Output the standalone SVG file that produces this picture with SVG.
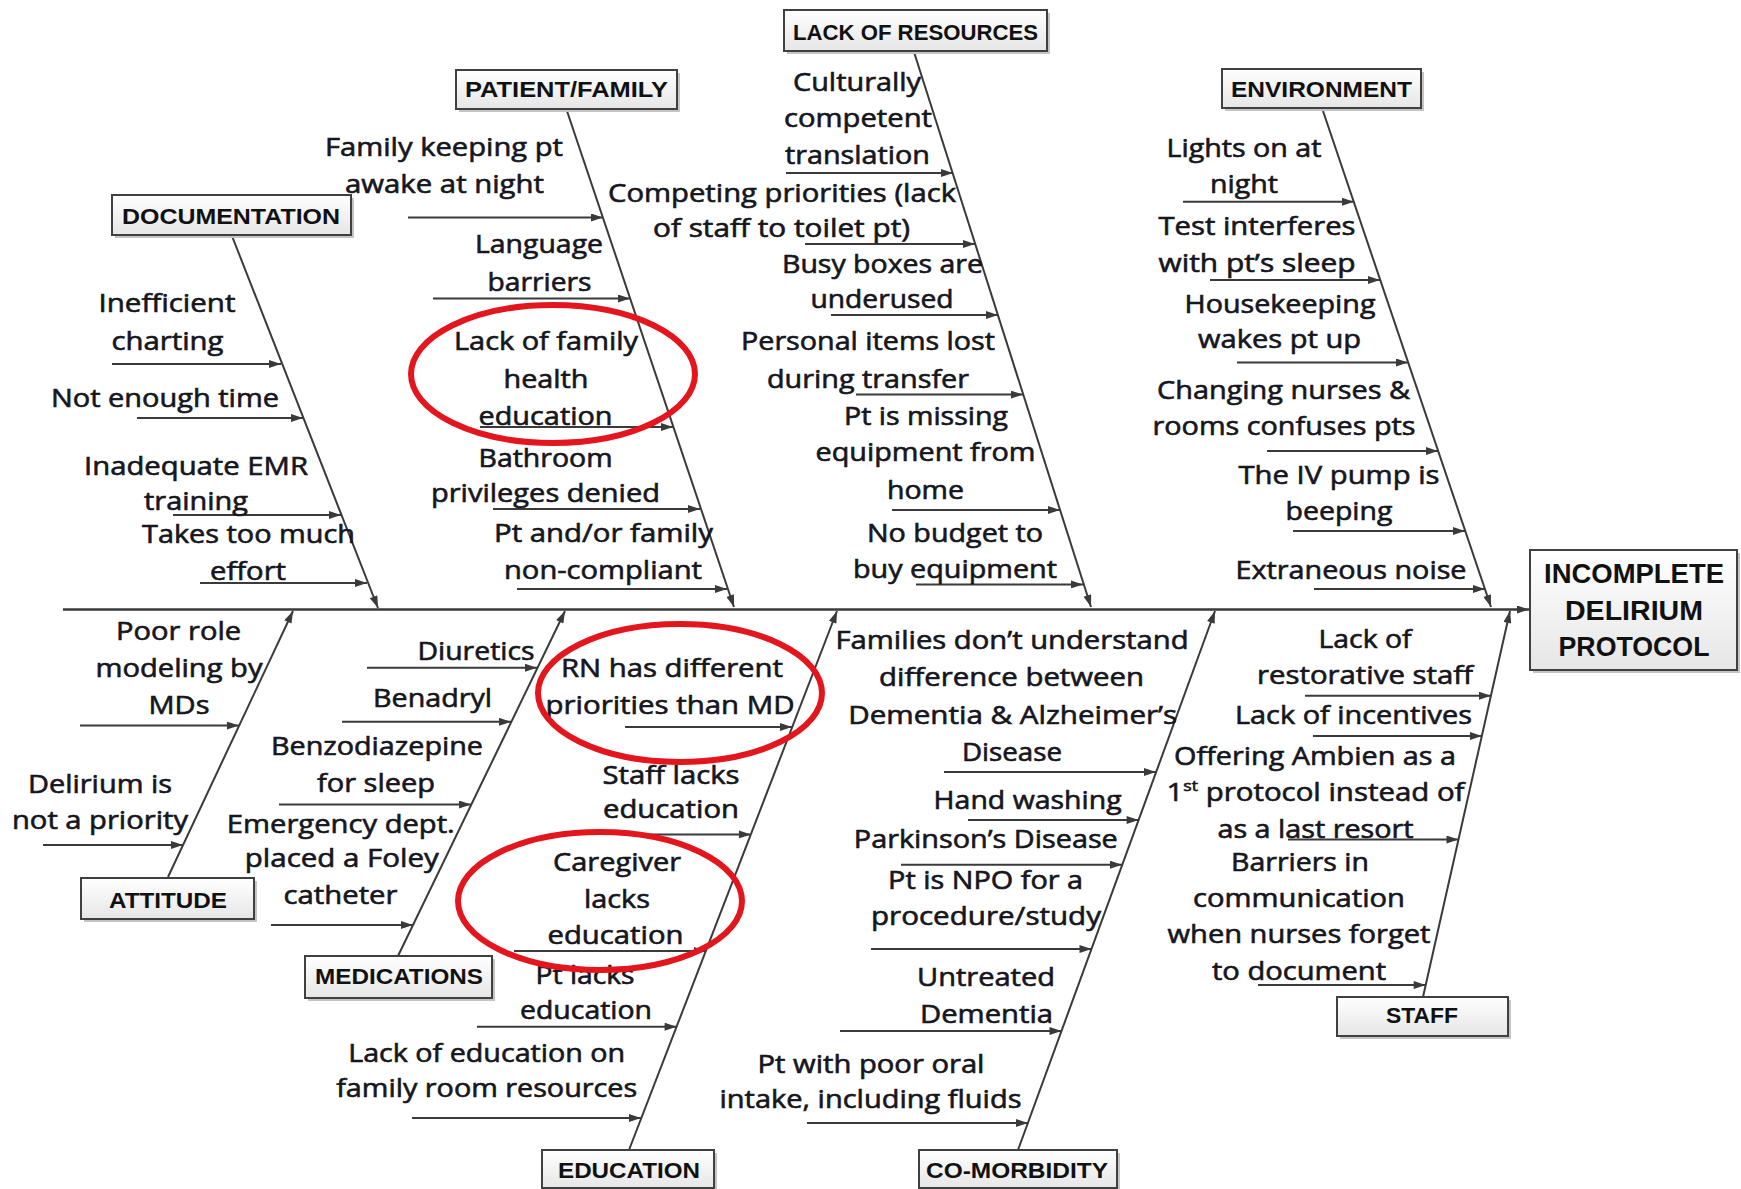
<svg xmlns="http://www.w3.org/2000/svg" width="1741" height="1189" viewBox="0 0 1741 1189">
  <defs>
    <linearGradient id="boxfill" x1="0" y1="0" x2="0" y2="1">
      <stop offset="0" stop-color="#ffffff"/>
      <stop offset="1" stop-color="#e6e6e6"/>
    </linearGradient>
    <marker id="ah" viewBox="0 0 12 8" refX="12" refY="4" markerUnits="userSpaceOnUse" markerWidth="13" markerHeight="8" orient="auto">
      <path d="M0,0 L12,4 L0,8 z" fill="#3a3a3a"/>
    </marker>
    <style>
      .shadow { fill: #c4c4c4; }
      .box { fill: url(#boxfill); stroke: #404040; stroke-width: 2; }
      .title { font-family: "Liberation Sans", Arial, sans-serif; font-weight: bold; font-size: 22px; fill: #111; text-anchor: middle; }
      .effect { font-size: 27px; }
      .lbl { font-family: "Open Sans", "Liberation Sans", sans-serif; font-size: 25px; fill: #161620; stroke: #161620; stroke-width: 0.6; text-anchor: middle; }
      .sup { font-size: 15px; }
      .bone { stroke: #3a3a3a; stroke-width: 2; fill: none; marker-end: url(#ah); }
      .spine { stroke: #3a3a3a; stroke-width: 2.4; fill: none; marker-end: url(#ah); }
      .hl { fill: none; stroke: #e3161d; stroke-width: 6; }
    </style>
  </defs>

  <rect width="1741" height="1189" fill="#ffffff"/>

  <!-- connectors: spine, category bones and cause arrows -->
  <g id="connectors">
    <line class="spine" x1="63" y1="609.5" x2="1529" y2="609.5"/>
    <!-- upper bones -->
    <line class="bone" x1="232" y1="236" x2="378" y2="608"/>
    <line class="bone" x1="567" y1="111" x2="734" y2="607"/>
    <line class="bone" x1="914" y1="52" x2="1091" y2="607"/>
    <line class="bone" x1="1323" y1="111" x2="1491" y2="607"/>
    <!-- lower bones -->
    <line class="bone" x1="168" y1="877" x2="293" y2="611"/>
    <line class="bone" x1="398" y1="956" x2="565" y2="611"/>
    <line class="bone" x1="629" y1="1150" x2="837" y2="611"/>
    <line class="bone" x1="1018" y1="1150" x2="1215" y2="611"/>
    <line class="bone" x1="1423" y1="997" x2="1510" y2="611"/>

    <!-- documentation causes -->
    <line class="bone" x1="112" y1="364" x2="281" y2="364"/>
    <line class="bone" x1="137" y1="418" x2="303" y2="418"/>
    <line class="bone" x1="173" y1="515" x2="341" y2="515"/>
    <line class="bone" x1="200" y1="583" x2="367" y2="583"/>
    <!-- patient/family causes -->
    <line class="bone" x1="408" y1="217.5" x2="603" y2="217.5"/>
    <line class="bone" x1="433" y1="298.5" x2="630" y2="298.5"/>
    <line class="bone" x1="480" y1="427" x2="673" y2="427"/>
    <line class="bone" x1="493" y1="509" x2="700" y2="509"/>
    <line class="bone" x1="517" y1="589" x2="727" y2="589"/>
    <!-- lack of resources causes -->
    <line class="bone" x1="786" y1="173" x2="953" y2="173"/>
    <line class="bone" x1="805" y1="244" x2="975" y2="244"/>
    <line class="bone" x1="831" y1="315" x2="998" y2="315"/>
    <line class="bone" x1="856" y1="394.6" x2="1023" y2="394.6"/>
    <line class="bone" x1="892" y1="510" x2="1060" y2="510"/>
    <line class="bone" x1="916" y1="584.4" x2="1083" y2="584.4"/>
    <!-- environment causes -->
    <line class="bone" x1="1183" y1="201.8" x2="1354" y2="201.8"/>
    <line class="bone" x1="1210" y1="280" x2="1380" y2="280"/>
    <line class="bone" x1="1237" y1="362.5" x2="1408" y2="362.5"/>
    <line class="bone" x1="1267" y1="451" x2="1438" y2="451"/>
    <line class="bone" x1="1293" y1="531" x2="1465" y2="531"/>
    <line class="bone" x1="1314" y1="589" x2="1485" y2="589"/>
    <!-- attitude causes -->
    <line class="bone" x1="80" y1="725.6" x2="239" y2="725.6"/>
    <line class="bone" x1="43" y1="845" x2="183" y2="845"/>
    <!-- medication causes -->
    <line class="bone" x1="367" y1="667.8" x2="537" y2="667.8"/>
    <line class="bone" x1="342" y1="721.8" x2="511" y2="721.8"/>
    <line class="bone" x1="279" y1="804.5" x2="471" y2="804.5"/>
    <line class="bone" x1="271" y1="925" x2="413" y2="925"/>
    <!-- education causes -->
    <line class="bone" x1="625" y1="727" x2="792" y2="727"/>
    <line class="bone" x1="628" y1="834.4" x2="751" y2="834.4"/>
    <line class="bone" x1="514" y1="951" x2="706" y2="951"/>
    <line class="bone" x1="477" y1="1026.7" x2="676.6" y2="1026.7"/>
    <line class="bone" x1="412" y1="1118" x2="641" y2="1118"/>
    <!-- co-morbidity causes -->
    <line class="bone" x1="944" y1="772" x2="1156" y2="772"/>
    <line class="bone" x1="968" y1="820" x2="1138.6" y2="820"/>
    <line class="bone" x1="901" y1="864.7" x2="1122" y2="864.7"/>
    <line class="bone" x1="871" y1="949" x2="1091.5" y2="949"/>
    <line class="bone" x1="840" y1="1031" x2="1061.5" y2="1031"/>
    <line class="bone" x1="807" y1="1123" x2="1028" y2="1123"/>
    <!-- staff causes -->
    <line class="bone" x1="1305" y1="695.7" x2="1491" y2="695.7"/>
    <line class="bone" x1="1313" y1="736" x2="1482" y2="736"/>
    <line class="bone" x1="1288" y1="839.5" x2="1458.5" y2="839.5"/>
    <line class="bone" x1="1258" y1="985" x2="1425.7" y2="985"/>
  </g>

  <!-- effect -->
  <g id="effect">
    <rect class="shadow" x="1533" y="553" width="207" height="120"/>
    <rect class="box" x="1530" y="550" width="207" height="120"/>
    <text class="title effect" x="1634" y="582.6" textLength="180" lengthAdjust="spacingAndGlyphs">INCOMPLETE</text>
    <text class="title effect" x="1634" y="619.6" textLength="138" lengthAdjust="spacingAndGlyphs">DELIRIUM</text>
    <text class="title effect" x="1634" y="656" textLength="151" lengthAdjust="spacingAndGlyphs">PROTOCOL</text>
  </g>

  <!-- category heads -->
  <g id="cat-resources">
    <rect class="shadow" x="787" y="13" width="263" height="41"/>
    <rect class="box" x="784" y="10" width="263" height="41"/>
    <text class="title" x="915.5" y="39.5" textLength="245" lengthAdjust="spacingAndGlyphs">LACK OF RESOURCES</text>
  </g>
  <g id="cat-patient-family">
    <rect class="shadow" x="459" y="73" width="221" height="39"/>
    <rect class="box" x="456" y="70" width="221" height="39"/>
    <text class="title" x="566.5" y="97" textLength="203" lengthAdjust="spacingAndGlyphs">PATIENT/FAMILY</text>
  </g>
  <g id="cat-documentation">
    <rect class="shadow" x="115" y="198" width="239" height="40"/>
    <rect class="box" x="112" y="195" width="239" height="40"/>
    <text class="title" x="231" y="223.5" textLength="218" lengthAdjust="spacingAndGlyphs">DOCUMENTATION</text>
  </g>
  <g id="cat-environment">
    <rect class="shadow" x="1225" y="72" width="199" height="39"/>
    <rect class="box" x="1222" y="69" width="199" height="39"/>
    <text class="title" x="1321.5" y="97" textLength="181" lengthAdjust="spacingAndGlyphs">ENVIRONMENT</text>
  </g>
  <g id="cat-attitude">
    <rect class="shadow" x="84" y="881" width="173" height="41"/>
    <rect class="box" x="81" y="878" width="173" height="41"/>
    <text class="title" x="168" y="908" textLength="118" lengthAdjust="spacingAndGlyphs">ATTITUDE</text>
  </g>
  <g id="cat-medications">
    <rect class="shadow" x="308" y="959" width="187" height="42"/>
    <rect class="box" x="305" y="956" width="187" height="42"/>
    <text class="title" x="399" y="984" textLength="168" lengthAdjust="spacingAndGlyphs">MEDICATIONS</text>
  </g>
  <g id="cat-education">
    <rect class="shadow" x="545" y="1153" width="172" height="38"/>
    <rect class="box" x="542" y="1150" width="172" height="38"/>
    <text class="title" x="629" y="1178" textLength="142" lengthAdjust="spacingAndGlyphs">EDUCATION</text>
  </g>
  <g id="cat-comorbidity">
    <rect class="shadow" x="922" y="1153" width="198" height="38"/>
    <rect class="box" x="919" y="1150" width="198" height="38"/>
    <text class="title" x="1017" y="1178" textLength="182" lengthAdjust="spacingAndGlyphs">CO-MORBIDITY</text>
  </g>
  <g id="cat-staff">
    <rect class="shadow" x="1340" y="1000" width="171" height="39"/>
    <rect class="box" x="1337" y="997" width="171" height="39"/>
    <text class="title" x="1422" y="1023" textLength="72" lengthAdjust="spacingAndGlyphs">STAFF</text>
  </g>

  <!-- documentation causes -->
  <g id="doc-charting">
    <text class="lbl" x="167" y="312" textLength="137" lengthAdjust="spacingAndGlyphs">Inefficient</text>
    <text class="lbl" x="167.5" y="350" textLength="112" lengthAdjust="spacingAndGlyphs">charting</text>
  </g>
  <g id="doc-time">
    <text class="lbl" x="165" y="406.5" textLength="228" lengthAdjust="spacingAndGlyphs">Not enough time</text>
  </g>
  <g id="doc-emr">
    <text class="lbl" x="196" y="474.5" textLength="224" lengthAdjust="spacingAndGlyphs">Inadequate EMR</text>
    <text class="lbl" x="196" y="510" textLength="104" lengthAdjust="spacingAndGlyphs">training</text>
  </g>
  <g id="doc-effort">
    <text class="lbl" x="248.5" y="542.5" textLength="213" lengthAdjust="spacingAndGlyphs">Takes too much</text>
    <text class="lbl" x="248" y="579.6" textLength="76" lengthAdjust="spacingAndGlyphs">effort</text>
  </g>

  <!-- patient/family causes -->
  <g id="pf-awake">
    <text class="lbl" x="444" y="156" textLength="238" lengthAdjust="spacingAndGlyphs">Family keeping pt</text>
    <text class="lbl" x="444.5" y="192.6" textLength="199" lengthAdjust="spacingAndGlyphs">awake at night</text>
  </g>
  <g id="pf-language">
    <text class="lbl" x="539" y="253" textLength="128" lengthAdjust="spacingAndGlyphs">Language</text>
    <text class="lbl" x="539.5" y="290.6" textLength="104" lengthAdjust="spacingAndGlyphs">barriers</text>
  </g>
  <g id="pf-health-education">
    <text class="lbl" x="546" y="350" textLength="184" lengthAdjust="spacingAndGlyphs">Lack of family</text>
    <text class="lbl" x="546" y="387.5" textLength="85" lengthAdjust="spacingAndGlyphs">health</text>
    <text class="lbl" x="545.5" y="425" textLength="134" lengthAdjust="spacingAndGlyphs">education</text>
  </g>
  <g id="pf-bathroom">
    <text class="lbl" x="545.5" y="466.6" textLength="134" lengthAdjust="spacingAndGlyphs">Bathroom</text>
    <text class="lbl" x="545.5" y="502" textLength="229" lengthAdjust="spacingAndGlyphs">privileges denied</text>
  </g>
  <g id="pf-noncompliant">
    <text class="lbl" x="603.5" y="541.7" textLength="219" lengthAdjust="spacingAndGlyphs">Pt and/or family</text>
    <text class="lbl" x="603" y="579" textLength="198" lengthAdjust="spacingAndGlyphs">non-compliant</text>
  </g>

  <!-- lack of resources causes -->
  <g id="lr-translation">
    <text class="lbl" x="857" y="91" textLength="128" lengthAdjust="spacingAndGlyphs">Culturally</text>
    <text class="lbl" x="858" y="127" textLength="148" lengthAdjust="spacingAndGlyphs">competent</text>
    <text class="lbl" x="857.5" y="164" textLength="145" lengthAdjust="spacingAndGlyphs">translation</text>
  </g>
  <g id="lr-priorities">
    <text class="lbl" x="782" y="201.7" textLength="348" lengthAdjust="spacingAndGlyphs">Competing priorities (lack</text>
    <text class="lbl" x="781.5" y="237" textLength="257" lengthAdjust="spacingAndGlyphs">of staff to toilet pt)</text>
  </g>
  <g id="lr-busy-boxes">
    <text class="lbl" x="882.5" y="273" textLength="201" lengthAdjust="spacingAndGlyphs">Busy boxes are</text>
    <text class="lbl" x="882" y="308" textLength="143" lengthAdjust="spacingAndGlyphs">underused</text>
  </g>
  <g id="lr-items-lost">
    <text class="lbl" x="868" y="350" textLength="254" lengthAdjust="spacingAndGlyphs">Personal items lost</text>
    <text class="lbl" x="868" y="387.5" textLength="202" lengthAdjust="spacingAndGlyphs">during transfer</text>
  </g>
  <g id="lr-equipment-home">
    <text class="lbl" x="926" y="425" textLength="164" lengthAdjust="spacingAndGlyphs">Pt is missing</text>
    <text class="lbl" x="925.5" y="460.6" textLength="220" lengthAdjust="spacingAndGlyphs">equipment from</text>
    <text class="lbl" x="925.5" y="499" textLength="77" lengthAdjust="spacingAndGlyphs">home</text>
  </g>
  <g id="lr-budget">
    <text class="lbl" x="955" y="541.7" textLength="176" lengthAdjust="spacingAndGlyphs">No budget to</text>
    <text class="lbl" x="955" y="578" textLength="204" lengthAdjust="spacingAndGlyphs">buy equipment</text>
  </g>

  <!-- environment causes -->
  <g id="env-lights">
    <text class="lbl" x="1244" y="157" textLength="155" lengthAdjust="spacingAndGlyphs">Lights on at</text>
    <text class="lbl" x="1244" y="193" textLength="68" lengthAdjust="spacingAndGlyphs">night</text>
  </g>
  <g id="env-tests">
    <text class="lbl" x="1257" y="235" textLength="197" lengthAdjust="spacingAndGlyphs">Test interferes</text>
    <text class="lbl" x="1257" y="272" textLength="197" lengthAdjust="spacingAndGlyphs">with pt’s sleep</text>
  </g>
  <g id="env-housekeeping">
    <text class="lbl" x="1280" y="312.5" textLength="191" lengthAdjust="spacingAndGlyphs">Housekeeping</text>
    <text class="lbl" x="1279.6" y="348" textLength="163" lengthAdjust="spacingAndGlyphs">wakes pt up</text>
  </g>
  <g id="env-changing">
    <text class="lbl" x="1283.5" y="398.6" textLength="253" lengthAdjust="spacingAndGlyphs">Changing nurses &amp;</text>
    <text class="lbl" x="1284" y="435" textLength="263" lengthAdjust="spacingAndGlyphs">rooms confuses pts</text>
  </g>
  <g id="env-iv-pump">
    <text class="lbl" x="1339" y="484" textLength="201" lengthAdjust="spacingAndGlyphs">The IV pump is</text>
    <text class="lbl" x="1339" y="520" textLength="107" lengthAdjust="spacingAndGlyphs">beeping</text>
  </g>
  <g id="env-noise">
    <text class="lbl" x="1351" y="579.4" textLength="231" lengthAdjust="spacingAndGlyphs">Extraneous noise</text>
  </g>

  <!-- attitude causes -->
  <g id="att-role-modeling">
    <text class="lbl" x="178.6" y="640" textLength="125" lengthAdjust="spacingAndGlyphs">Poor role</text>
    <text class="lbl" x="179" y="677" textLength="167" lengthAdjust="spacingAndGlyphs">modeling by</text>
    <text class="lbl" x="179" y="714" textLength="61" lengthAdjust="spacingAndGlyphs">MDs</text>
  </g>
  <g id="att-priority">
    <text class="lbl" x="100" y="793" textLength="144" lengthAdjust="spacingAndGlyphs">Delirium is</text>
    <text class="lbl" x="100" y="828.6" textLength="176" lengthAdjust="spacingAndGlyphs">not a priority</text>
  </g>

  <!-- medication causes -->
  <g id="med-diuretics">
    <text class="lbl" x="476" y="659.6" textLength="117" lengthAdjust="spacingAndGlyphs">Diuretics</text>
  </g>
  <g id="med-benadryl">
    <text class="lbl" x="432.6" y="707" textLength="119" lengthAdjust="spacingAndGlyphs">Benadryl</text>
  </g>
  <g id="med-benzodiazepine">
    <text class="lbl" x="377" y="754.8" textLength="212" lengthAdjust="spacingAndGlyphs">Benzodiazepine</text>
    <text class="lbl" x="376" y="791.7" textLength="118" lengthAdjust="spacingAndGlyphs">for sleep</text>
  </g>
  <g id="med-foley">
    <text class="lbl" x="340.8" y="832.5" textLength="228" lengthAdjust="spacingAndGlyphs">Emergency dept.</text>
    <text class="lbl" x="341.8" y="867.4" textLength="194" lengthAdjust="spacingAndGlyphs">placed a Foley</text>
    <text class="lbl" x="340.5" y="904" textLength="114" lengthAdjust="spacingAndGlyphs">catheter</text>
  </g>

  <!-- education causes -->
  <g id="edu-rn-priorities">
    <text class="lbl" x="672" y="677" textLength="222" lengthAdjust="spacingAndGlyphs">RN has different</text>
    <text class="lbl" x="670" y="714" textLength="249" lengthAdjust="spacingAndGlyphs">priorities than MD</text>
  </g>
  <g id="edu-staff">
    <text class="lbl" x="671" y="784" textLength="137" lengthAdjust="spacingAndGlyphs">Staff lacks</text>
    <text class="lbl" x="671" y="817.7" textLength="136" lengthAdjust="spacingAndGlyphs">education</text>
  </g>
  <g id="edu-caregiver">
    <text class="lbl" x="617" y="870.5" textLength="128" lengthAdjust="spacingAndGlyphs">Caregiver</text>
    <text class="lbl" x="617" y="908" textLength="66" lengthAdjust="spacingAndGlyphs">lacks</text>
    <text class="lbl" x="615.5" y="944" textLength="136" lengthAdjust="spacingAndGlyphs">education</text>
  </g>
  <g id="edu-patient">
    <text class="lbl" x="585" y="984" textLength="99" lengthAdjust="spacingAndGlyphs">Pt lacks</text>
    <text class="lbl" x="586" y="1019" textLength="132" lengthAdjust="spacingAndGlyphs">education</text>
  </g>
  <g id="edu-family-room">
    <text class="lbl" x="486.7" y="1061.6" textLength="277" lengthAdjust="spacingAndGlyphs">Lack of education on</text>
    <text class="lbl" x="486.7" y="1096.6" textLength="301" lengthAdjust="spacingAndGlyphs">family room resources</text>
  </g>

  <!-- co-morbidity causes -->
  <g id="com-dementia-alzheimers">
    <text class="lbl" x="1012" y="649" textLength="353" lengthAdjust="spacingAndGlyphs">Families don’t understand</text>
    <text class="lbl" x="1011.6" y="685.6" textLength="265" lengthAdjust="spacingAndGlyphs">difference between</text>
    <text class="lbl" x="1012.7" y="723.7" textLength="329" lengthAdjust="spacingAndGlyphs">Dementia &amp; Alzheimer’s</text>
    <text class="lbl" x="1012" y="760.6" textLength="100" lengthAdjust="spacingAndGlyphs">Disease</text>
  </g>
  <g id="com-hand-washing">
    <text class="lbl" x="1027.6" y="809" textLength="188" lengthAdjust="spacingAndGlyphs">Hand washing</text>
  </g>
  <g id="com-parkinsons">
    <text class="lbl" x="985.8" y="848" textLength="264" lengthAdjust="spacingAndGlyphs">Parkinson’s Disease</text>
  </g>
  <g id="com-npo">
    <text class="lbl" x="985.6" y="888.8" textLength="195" lengthAdjust="spacingAndGlyphs">Pt is NPO for a</text>
    <text class="lbl" x="986" y="925" textLength="230" lengthAdjust="spacingAndGlyphs">procedure/study</text>
  </g>
  <g id="com-untreated-dementia">
    <text class="lbl" x="986" y="986" textLength="138" lengthAdjust="spacingAndGlyphs">Untreated</text>
    <text class="lbl" x="986.5" y="1022.8" textLength="133" lengthAdjust="spacingAndGlyphs">Dementia</text>
  </g>
  <g id="com-oral-intake">
    <text class="lbl" x="871" y="1072.5" textLength="227" lengthAdjust="spacingAndGlyphs">Pt with poor oral</text>
    <text class="lbl" x="870.5" y="1108" textLength="302" lengthAdjust="spacingAndGlyphs">intake, including fluids</text>
  </g>

  <!-- staff causes -->
  <g id="staff-restorative">
    <text class="lbl" x="1365" y="648" textLength="93" lengthAdjust="spacingAndGlyphs">Lack of</text>
    <text class="lbl" x="1365" y="684" textLength="216" lengthAdjust="spacingAndGlyphs">restorative staff</text>
  </g>
  <g id="staff-incentives">
    <text class="lbl" x="1353.5" y="723.7" textLength="237" lengthAdjust="spacingAndGlyphs">Lack of incentives</text>
  </g>
  <g id="staff-ambien">
    <text class="lbl" x="1315" y="764.5" textLength="282" lengthAdjust="spacingAndGlyphs">Offering Ambien as a</text>
    <text class="lbl" x="1315.5" y="801" textLength="298" lengthAdjust="spacingAndGlyphs">1<tspan class="sup" dy="-10">st</tspan><tspan dy="10"> protocol instead of</tspan></text>
    <text class="lbl" x="1315.5" y="837.5" textLength="196" lengthAdjust="spacingAndGlyphs">as a last resort</text>
  </g>
  <g id="staff-communication">
    <text class="lbl" x="1300" y="871" textLength="138" lengthAdjust="spacingAndGlyphs">Barriers in</text>
    <text class="lbl" x="1299" y="907.4" textLength="212" lengthAdjust="spacingAndGlyphs">communication</text>
    <text class="lbl" x="1299" y="943" textLength="263" lengthAdjust="spacingAndGlyphs">when nurses forget</text>
    <text class="lbl" x="1299" y="980" textLength="174" lengthAdjust="spacingAndGlyphs">to document</text>
  </g>

  <!-- red highlight rings -->
  <g id="highlights">
    <ellipse class="hl" cx="553" cy="374" rx="142" ry="69"/>
    <ellipse class="hl" cx="680" cy="693" rx="142" ry="69"/>
    <ellipse class="hl" cx="600" cy="901" rx="142" ry="69"/>
  </g>
</svg>
